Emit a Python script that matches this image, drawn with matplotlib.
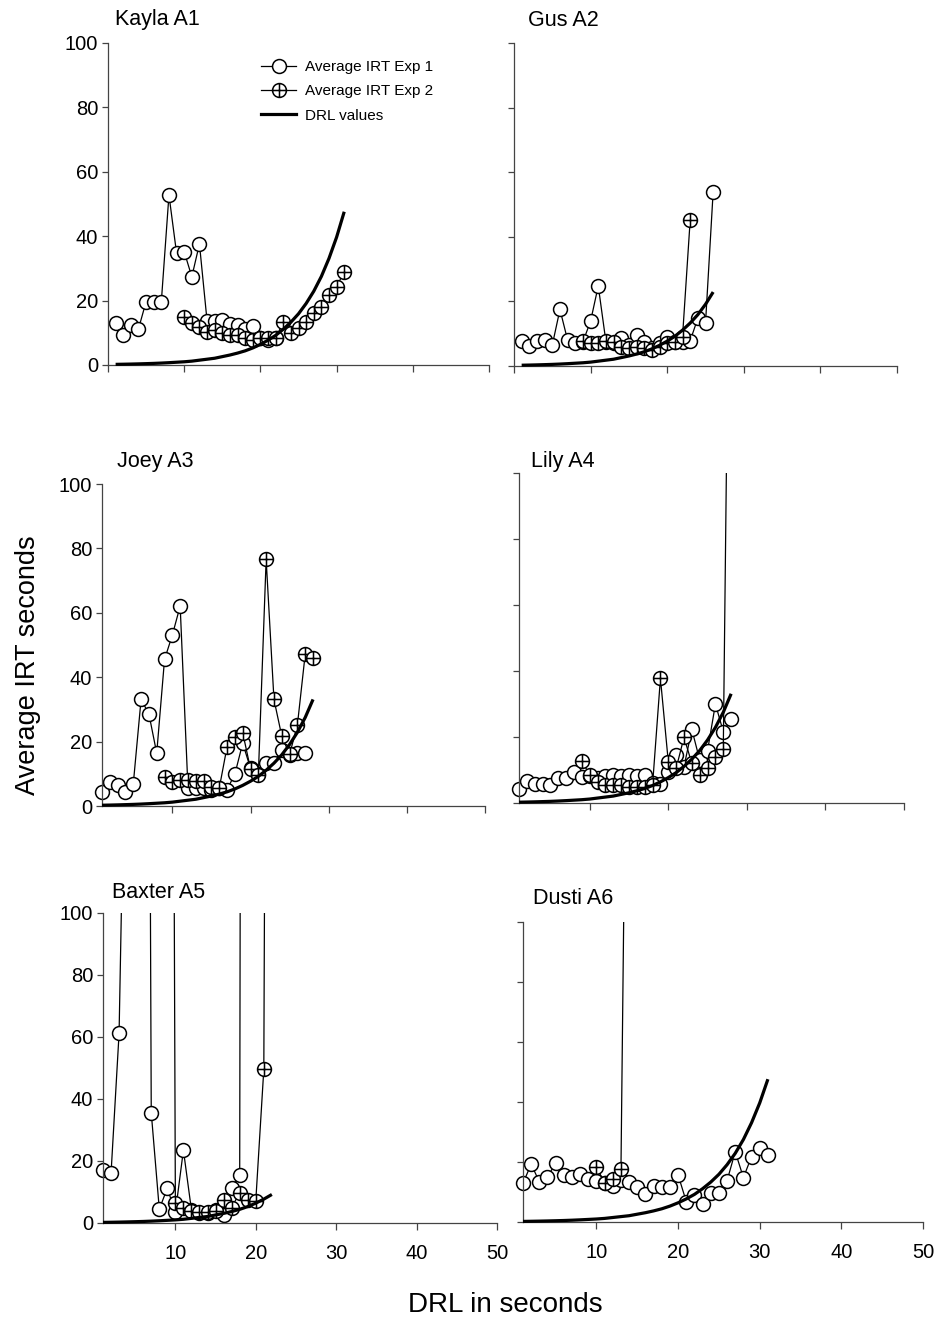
import matplotlib
matplotlib.use('Agg')
import matplotlib.pyplot as plt
from matplotlib.path import Path
from matplotlib.lines import Line2D
from matplotlib.patches import Rectangle

plt.rcParams['font.family'] = ['Liberation Sans', 'DejaVu Sans']

# DRL schedule (seconds), one value per session
drl_values = [0.20, 0.24, 0.29, 0.35, 0.42, 0.50, 0.60, 0.72, 0.86, 1.0, 1.2,
              1.5, 1.8, 2.1, 2.6, 3.1, 3.7, 4.4, 5.3, 6.4, 7.7, 9.2, 11.1,
              13.3, 15.9, 19.1, 22.9, 27.5, 33.1, 39.7, 47.6]

# average IRT per session; exp 1 starts at session 1
kayla_exp1 = [12.9, 9.3, 12.4, 11.2, 19.7, 19.7, 19.7, 52.8, 34.7, 35.2, 27.4,
              37.6, 13.7, 13.7, 14.0, 12.7, 12.4, 11.1, 12.0, 8.3, 7.8, 8.3]
kayla_exp2 = [15.0, 12.9, 11.9, 10.3, 10.9, 9.8, 9.3, 9.3, 8.3, 7.8, 8.3, 8.3,
              8.3, 13.4, 9.8, 11.4, 13.4, 16.0, 18.1, 21.7, 24.3, 29.0]
gus_exp1 = [7.8, 6.2, 7.8, 8.0, 6.5, 17.5, 8.0, 7.0, 7.5, 13.9, 24.8, 7.5, 7.0,
            8.6, 6.5, 9.6, 7.5, 5.5, 7.0, 8.9, 7.5, 7.5, 7.8, 14.8, 13.2, 54.0]
gus_exp2 = [7.8, 7.0, 7.0, 7.8, 7.5, 6.0, 5.5, 6.0, 5.5, 5.0, 6.0, 7.0, 7.5,
            9.1, 45.2]
joey_exp1 = [4.2, 7.5, 6.5, 4.2, 6.8, 33.1, 28.6, 16.4, 45.5, 53.1, 62.1, 5.5,
             5.5, 5.5, 5.1, 5.5, 5.1, 9.9, 19.5, 11.7, 9.9, 13.5, 13.5, 17.5,
             15.8, 16.4, 16.6]
joey_exp2 = [8.9, 7.5, 8.1, 8.0, 7.7, 7.7, 6.0, 5.5, 18.4, 21.5, 22.8, 11.5,
             9.5, 76.6, 33.1, 21.7, 16.0, 25.2, 47.2, 46.1]
lily_exp1 = [4.1, 6.8, 5.8, 5.8, 5.5, 7.5, 7.5, 9.5, 7.8, 8.1, 7.5, 8.2, 8.5,
             8.1, 8.5, 8.1, 8.5, 6.2, 5.8, 9.3, 14.5, 11.0, 22.3, 13.0, 15.9,
             30.0, 21.6, 25.4]
lily_exp2 = [12.7, 8.5, 6.5, 5.5, 5.5, 5.5, 5.0, 5.0, 5.0, 5.5, 37.8, 12.5,
             10.5, 19.9, 12.0, 8.5, 10.5, 14.0, 16.3, 230.0]
baxter_exp1 = [17.1, 16.0, 61.2, 200.0, 400.0, 680.0, 35.6, 4.5, 11.2, 3.4,
               23.5, 4.2, 3.1, 3.1, 4.2, 2.6, 11.2, 15.5, 1500.0]
baxter_exp2 = [700.0, 6.3, 5.0, 4.0, 3.5, 3.5, 4.0, 7.4, 5.0, 9.8, 7.4, 7.1,
               49.6, 700.0]
dusti_exp1 = [12.9, 19.3, 13.4, 15.1, 19.6, 15.7, 15.1, 15.9, 14.2, 13.7, 13.1,
              12.0, 14.0, 13.4, 11.8, 9.3, 12.0, 11.6, 11.6, 15.7, 6.8, 9.0,
              6.0, 9.8, 9.8, 13.8, 23.4, 14.8, 21.8, 24.6, 22.3]
dusti_exp2 = [18.2, 13.1, 14.2, 17.6, 267.0]

# first session of exp 2, and which part of the DRL schedule each subject ran
names = ['Kayla A1', 'Gus A2', 'Joey A3', 'Lily A4', 'Baxter A5', 'Dusti A6']
exp1_data = [kayla_exp1, gus_exp1, joey_exp1, lily_exp1, baxter_exp1, dusti_exp1]
exp2_data = [kayla_exp2, gus_exp2, joey_exp2, lily_exp2, baxter_exp2, dusti_exp2]
exp2_start = [10, 9, 9, 9, 9, 10]
drl_slices = [(0, 31), (1, 27), (1, 29), (1, 29), (0, 22), (0, 31)]

W, H = 939, 1323
fig = plt.figure(figsize=(W / 100, H / 100), dpi=100)


def px_rect(x0, y0, x1, y1):
    return [x0 / W, 1 - y1 / H, (x1 - x0) / W, (y1 - y0) / H]


# panel boxes in pixels: left, top, right, bottom
boxes = [(108, 43, 489, 365), (514, 43, 897, 366),
         (102, 484, 485, 806), (519, 473, 904, 803),
         (103, 913, 497, 1223), (523, 922, 923, 1222)]
xmins = [0, 0, 1, 1, 1, 1]
title_pos = [(115, 20), (528, 20), (117, 462), (531, 462), (112, 892), (533, 899)]

# circle with a cross through it for exp 2
cross_circle = Path.make_compound_path(Path.unit_circle(),
                                       Path([(-1, 0), (1, 0)]),
                                       Path([(0, -1), (0, 1)]))

spine_col = '#444444'
ms = 10

for i in range(6):
    ax = fig.add_axes(px_rect(*boxes[i]))
    e1 = exp1_data[i]
    e2 = exp2_data[i]
    x1 = list(range(1, len(e1) + 1))
    x2 = list(range(exp2_start[i], exp2_start[i] + len(e2)))
    a, b = drl_slices[i]
    drl = drl_values[a:b]
    xd = list(range(1, len(drl) + 1))

    # clip only at the top so edge markers stay whole
    clip = Rectangle((-0.1, -0.1), 1.2, 1.1, transform=ax.transAxes,
                     visible=False)
    ax.add_patch(clip)

    l1, = ax.plot(x1, e1, color='k', lw=0.9, marker='o', ms=ms, mfc='white',
                  mec='k', mew=1.1, zorder=2)
    l2, = ax.plot(x2, e2, color='k', lw=0.9, marker=cross_circle, ms=ms,
                  mfc='white', mec='k', mew=1.1, zorder=3)
    l3, = ax.plot(xd, drl, color='k', lw=2.3, zorder=4, solid_capstyle='butt')
    for ln in (l1, l2, l3):
        ln.set_clip_path(clip)

    ax.set_xlim(xmins[i], 50)
    ax.set_ylim(0, 100)
    ax.set_xticks([t for t in range(0, 51, 10) if t >= xmins[i]])
    ax.set_yticks(range(0, 101, 20))
    for s in ['top', 'right']:
        ax.spines[s].set_visible(False)
    for s in ['left', 'bottom']:
        ax.spines[s].set_color(spine_col)
        ax.spines[s].set_linewidth(0.9)
    ax.tick_params(direction='out', length=4, width=0.9, color=spine_col,
                   labelsize=14.5, pad=3)
    ax.tick_params(axis='x', length=5, pad=10)
    if i % 2 == 1:
        ax.set_yticklabels([])
    if i < 4:
        ax.set_xticklabels([])

    tx, ty = title_pos[i]
    fig.text(tx / W, 1 - ty / H, names[i], fontsize=15.5, ha='left', va='center')

    if i == 0:
        handles = [
            Line2D([], [], color='k', lw=0.9, marker='o', ms=ms, mfc='white',
                   mec='k', mew=1.1),
            Line2D([], [], color='k', lw=0.9, marker=cross_circle, ms=ms,
                   mfc='white', mec='k', mew=1.1),
            Line2D([], [], color='k', lw=2.3),
        ]
        labels = ['Average IRT Exp 1', 'Average IRT Exp 2', 'DRL values']
        ax.legend(handles, labels, loc='upper left',
                  bbox_to_anchor=(261 / W, 1 - 60 / H),
                  bbox_transform=fig.transFigure, frameon=False, fontsize=11,
                  handlelength=2.3, handletextpad=0.6, labelspacing=0.68,
                  borderpad=0, borderaxespad=0)

fig.text(28 / W, 1 - 665 / H, 'Average IRT seconds', rotation=90,
         fontsize=19.5, ha='center', va='center')
fig.text(505 / W, 1 - 1305 / H, 'DRL in seconds', fontsize=20,
         ha='center', va='center')

fig.savefig('out.png', dpi=100)
